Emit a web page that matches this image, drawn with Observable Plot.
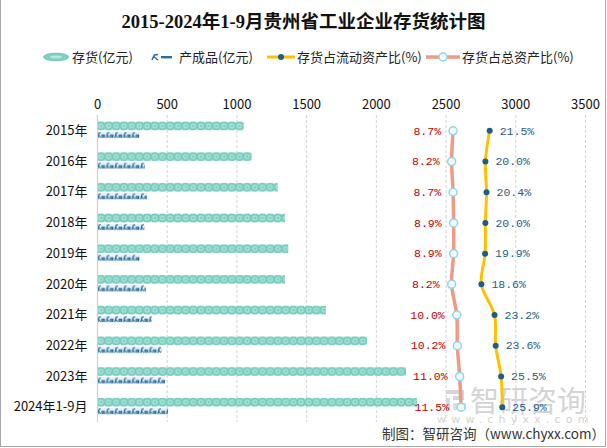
<!DOCTYPE html>
<html><head><meta charset="utf-8">
<script src="https://cdn.jsdelivr.net/npm/d3@7"></script>
<script src="https://cdn.jsdelivr.net/npm/@observablehq/plot@0.6"></script>
<style>
body{margin:0;background:#fff;}
#wrap{position:relative;width:607px;height:448px;overflow:hidden;font-family:"Noto Sans CJK SC",sans-serif;background:#fff;}
#frame{position:absolute;left:0;top:0;width:606px;height:447px;box-sizing:border-box;border:1px solid #a8a8a8;border-top:none;pointer-events:none;z-index:5;}
#title{position:absolute;left:0;top:9px;width:607px;text-align:center;font-family:"Liberation Serif","Noto Sans CJK SC",serif;font-weight:bold;font-size:18.5px;line-height:26px;color:#111;}
.lg{position:absolute;top:48px;height:18px;font-size:13px;line-height:18px;color:#222;white-space:nowrap;}
.lgi{position:absolute;top:48px;}
#chart{position:absolute;left:0;top:75px;z-index:2;}
#wm1{position:absolute;left:470px;top:381px;font-size:29px;line-height:36px;color:#d4d4d4;z-index:1;}
#wm2{position:absolute;left:437px;top:413px;font-size:11px;line-height:14px;color:#d2d2d2;letter-spacing:5.2px;font-family:"DejaVu Sans",sans-serif;z-index:1;}
#wmlogo{position:absolute;left:444px;top:387px;z-index:1;}
#foot{position:absolute;left:382px;top:423px;font-size:13.5px;line-height:20px;color:#333;white-space:nowrap;z-index:3;}
</style></head>
<body>
<div id="wrap">
  <div id="title">2015-2024年1-9月贵州省工业企业存货统计图</div>
  <svg class="lgi" style="left:43px" width="28" height="18"><ellipse cx="13" cy="9" rx="12.5" ry="3.8" fill="#7fcfc2" stroke="#62bfb1" stroke-width="0.8"/><ellipse cx="13" cy="9" rx="6" ry="1.6" fill="#b4e6de"/></svg>
  <div class="lg" style="left:72px">存货(亿元)</div>
  <svg class="lgi" style="left:150px" width="26" height="18"><path d="M2,12 L4.5,7 L8,6.5" stroke="#2a6e9b" stroke-width="1.6" fill="none"/><path d="M3,8 L8,12" stroke="#2a6e9b" stroke-width="1.4"/><rect x="11" y="8" width="11" height="2.4" fill="#2a6e9b"/></svg>
  <div class="lg" style="left:179px">产成品(亿元)</div>
  <svg class="lgi" style="left:266px" width="30" height="18"><line x1="1" y1="9" x2="29" y2="9" stroke="#ffc000" stroke-width="3"/><circle cx="15" cy="9" r="3" fill="#1d5e87"/></svg>
  <div class="lg" style="left:297px">存货占流动资产比(%)</div>
  <svg class="lgi" style="left:425px" width="36" height="18"><line x1="1" y1="9" x2="35" y2="9" stroke="#ee9a85" stroke-width="3.5"/><circle cx="18" cy="9" r="4" fill="#f0faf5" stroke="#8dd5f2" stroke-width="1.5"/></svg>
  <div class="lg" style="left:462px">存货占总资产比(%)</div>
  <svg id="wmlogo" width="26" height="26"><path d="M2,3 H20 V13 H9 V9 H16 V7 H2 Z" fill="#d3d7dd"/><path d="M2,11 H6 V23 H2 Z" fill="#d3d7dd"/><path d="M9,16 H22 V23 H9 Z" fill="#dadde2"/></svg>
  <div id="wm1">智研咨询</div>
  <div id="wm2">www.chyxx.com</div>
  <div id="chart"></div>
  <div id="foot">制图：智研咨询（www.chyxx.com）</div>
  <div id="frame"></div>
</div>
<script>
// ---- data ----
const years = ["2015年","2016年","2017年","2018年","2019年","2020年","2021年","2022年","2023年","2024年1-9月"];
const inventory = [1052,1109,1296,1348,1372,1348,1642,1936,2216,2295];   // 存货(亿元)
const finished = [305,344,358,340,308,351,392,463,488,510];              // 产成品(亿元)
const shareCurrent = [21.5,20.0,20.4,20.0,19.9,18.6,23.2,23.6,25.5,25.9]; // 存货占流动资产比(%)
const shareTotal = [8.7,8.2,8.7,8.9,8.9,8.2,10.0,10.2,11.0,11.5];        // 存货占总资产比(%)
const xTicks = [0,500,1000,1500,2000,2500,3000,3500];
const pctAxisDomain = [-115.6, 55.0]; // secondary (percentage) axis, hidden

const rows = years.map((y,i)=>({year:y, inv:inventory[i], fin:finished[i], cur:shareCurrent[i], tot:shareTotal[i]}));

const W = 607, H = 350, MT = 40, MB = 3, ML = 97, MR = 22;
const STEP = (H - MT - MB) / years.length;
const pct = d3.scaleLinear().domain(pctAxisDomain).range([0, 3500]);
const mono = "Liberation Mono, DejaVu Sans Mono, monospace";

const svg = Plot.plot({
  width: W, height: H, marginTop: MT, marginBottom: MB, marginLeft: ML, marginRight: MR,
  style: {fontFamily: '"Noto Sans CJK SC", sans-serif', fontSize: "13px", color: "#111", background: "transparent"},
  x: {domain: [0, 3500]},
  y: {type: "band", domain: years, padding: 0, round: false},
  marks: [
    Plot.gridX(xTicks.slice(1), {stroke: "#d4d4d4", strokeOpacity: 1, strokeDasharray: "3,2"}),
    Plot.axisX(xTicks, {anchor: "top", tickSize: 0, tickPadding: 7, label: null, fontSize: 13, fill: "#111", tickFormat: d => String(d)}),
    Plot.axisY({tickSize: 0, tickPadding: 10, label: null, fontSize: 13, fill: "#111"}),
    Plot.barX(rows, {x: "inv", y: "year", fill: "url(#invPat)", insetTop: 6.5, insetBottom: STEP - 15.3}),
    Plot.barX(rows, {x: "fin", y: "year", fill: "url(#finPat)", insetTop: 16.5, insetBottom: STEP - 23.5}),
    Plot.ruleX([0], {stroke: "#d0d0d0", strokeWidth: 1.2}),
    Plot.lineX(rows, {x: d => pct(d.tot), y: "year", stroke: "#ee9a85", strokeWidth: 3.5, curve: "catmull-rom"}),
    Plot.lineX(rows, {x: d => pct(d.cur), y: "year", stroke: "#ffc000", strokeWidth: 3, curve: "catmull-rom"}),
    Plot.dot(rows, {x: d => pct(d.tot), y: "year", r: 4, fill: "#f0faf5", stroke: "#8dd5f2", strokeWidth: 1.5}),
    Plot.dot(rows, {x: d => pct(d.cur), y: "year", r: 3, fill: "#1d5e87"}),
    Plot.text(rows, {x: d => pct(d.tot), y: "year", text: d => d.tot.toFixed(1) + "%", dx: -12, textAnchor: "end", fill: "#c00000", fontSize: 11.5, fontFamily: mono}),
    Plot.text(rows, {x: d => pct(d.cur), y: "year", text: d => d.cur.toFixed(1) + "%", dx: 10, textAnchor: "start", fill: "#1d5e87", fontSize: 11.5, fontFamily: mono})
  ]
});

const ns = "http://www.w3.org/2000/svg";
const defs = document.createElementNS(ns, "defs");
defs.innerHTML = `
<pattern id="invPat" patternUnits="userSpaceOnUse" x="${ML}" y="${MT}" width="7.7" height="${STEP}">
  <rect x="0" y="6" width="7.7" height="10" fill="#c6ebe4"/>
  <circle cx="3.85" cy="10.9" r="4.1" fill="#86d3c6" stroke="#5dbcad" stroke-width="0.9"/>
  <circle cx="3.85" cy="10.9" r="2" fill="none" stroke="#b8e8e0" stroke-width="0.9"/>
  <circle cx="4.3" cy="10.9" r="0.8" fill="#6cc6b8"/>
</pattern>
<pattern id="finPat" patternUnits="userSpaceOnUse" x="${ML}" y="${MT}" width="8.6" height="${STEP}">
  <rect x="0" y="16" width="8.6" height="8" fill="#e8f1f6"/>
  <path d="M0.8,23 L2,18 L3.8,17.6" stroke="#1f6898" stroke-width="1.2" fill="none"/>
  <path d="M1,19.5 L3.6,22.5" stroke="#1f6898" stroke-width="1"/>
  <rect x="4.3" y="19.5" width="3.6" height="3.2" fill="#1f6898"/>
  <rect x="5.4" y="20.3" width="0.8" height="2.4" fill="#8fb9d3"/>
</pattern>`;
svg.insertBefore(defs, svg.firstChild);
document.getElementById("chart").appendChild(svg);
</script>
</body></html>
